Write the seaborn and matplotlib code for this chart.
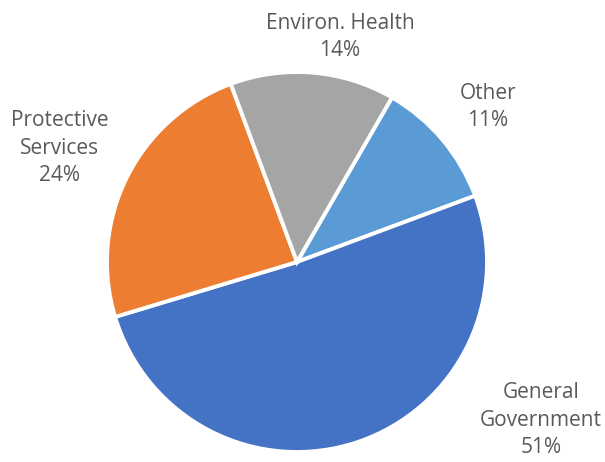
import matplotlib
matplotlib.use("Agg")
import matplotlib.pyplot as plt
import seaborn as sns

# Spending shares by category
categories = ["Other", "General Government", "Protective Services", "Environ. Health"]
shares = [11, 51, 24, 14]
label_text = ["Other", "General\nGovernment", "Protective\nServices", "Environ.\u00a0Health"]
colors = ["#5B9BD5", "#4472C4", "#ED7D31", "#A5A5A5"]

sns.set_theme(style="white")
plt.rcParams["font.family"] = ["Open Sans", "DejaVu Sans"]

W, H = 605, 462
cx, cy, r = 297, 262, 190  # pie centre and radius in pixels

fig = plt.figure(figsize=(W / 100, H / 100), dpi=100)
ax = fig.add_axes([0, 0, 1, 1])

ax.pie(shares, colors=colors, startangle=60, counterclock=False, radius=1,
       wedgeprops=dict(edgecolor="white", linewidth=2.8))

ax.set_aspect("equal")
ax.set_xlim(-cx / r, (W - cx) / r)
ax.set_ylim(-(H - cy) / r, cy / r)
ax.axis("off")

# Label anchor points (pixel positions converted to data units)
label_px = [(488, 107), (541, 420), (60, 148), (340, 37)]
for txt, val, (px, py) in zip(label_text, shares, label_px):
    ax.text((px - cx) / r, (cy - py) / r, f"{txt}\n{val}%", ha="center", va="center",
            fontsize=15, color="#595959", linespacing=1.42)

fig.savefig("out.png", dpi=100)
